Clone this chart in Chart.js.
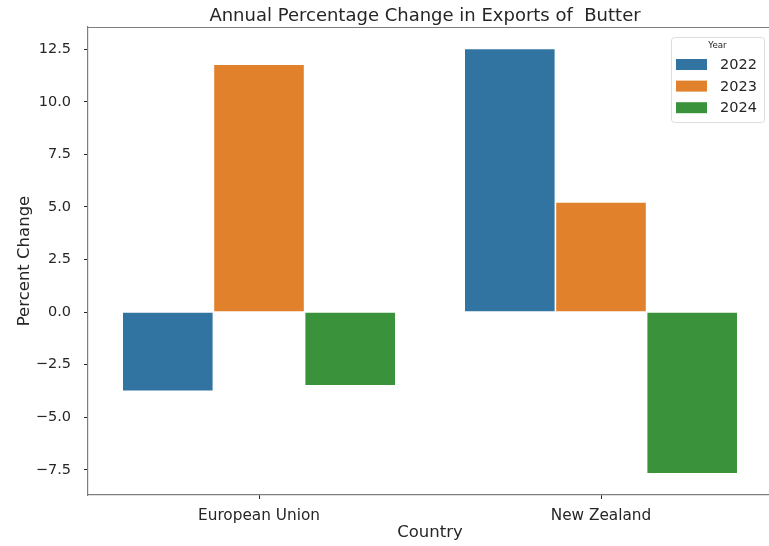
<!DOCTYPE html>
<html lang="en">
  <head>
    <meta charset="UTF-8" />
    <title>Annual Percentage Change in Exports of Butter</title>
    <script src="https://cdn.jsdelivr.net/npm/chart.js"></script>
    <style>
      html, body { margin: 0; background: #fff; overflow: hidden; }
    </style>
  </head>
  <body>
    <canvas id="butterChart" width="772" height="546"></canvas>

    <script>
      // data
      const countries = ["European Union", "New Zealand"];
      const years = ["2022", "2023", "2024"];
      const change2022 = [-3.77, 12.54];
      const change2023 = [11.79, 5.24];
      const change2024 = [-3.51, -7.69];
      const yTicks = [-7.5, -5, -2.5, 0, 2.5, 5, 7.5, 10, 12.5];

      const barColors = ["#3274a1", "#e1812c", "#3a923a"];
      const textColor = "#262626";
      const spineColor = "#7f7f7f";
      const fontFamily = "'DejaVu Sans', sans-serif";

      const seriesValues = [change2022, change2023, change2024];

      // title, top spine and the legend box
      const decorations = {
        id: "decorations",
        afterDraw(chart) {
          const ctx = chart.ctx;
          const area = chart.chartArea;
          ctx.save();

          ctx.strokeStyle = spineColor;
          ctx.lineWidth = 1.2;
          ctx.beginPath();
          ctx.moveTo(area.left, area.top + 0.5);
          ctx.lineTo(area.right, area.top + 0.5);
          ctx.stroke();

          ctx.fillStyle = textColor;
          ctx.font = "18px " + fontFamily;
          ctx.textAlign = "center";
          ctx.textBaseline = "middle";
          ctx.fillText("Annual Percentage Change in Exports of  Butter", (area.left + area.right) / 2 - 5, 16);

          // legend
          const lx = 671, ly = 37, lw = 93, lh = 85;
          ctx.fillStyle = "rgba(255,255,255,0.85)";
          ctx.strokeStyle = "#dddddd";
          ctx.lineWidth = 1;
          ctx.beginPath();
          ctx.roundRect(lx + 0.5, ly + 0.5, lw, lh, 3);
          ctx.fill();
          ctx.stroke();

          ctx.fillStyle = textColor;
          ctx.font = "8.7px " + fontFamily;
          ctx.textAlign = "center";
          ctx.fillText("Year", lx + lw / 2, 46);

          ctx.font = "14.5px " + fontFamily;
          ctx.textAlign = "left";
          chart.data.datasets.forEach((ds, i) => {
            const cy = 64.5 + i * 21.6;
            ctx.fillStyle = ds.backgroundColor;
            ctx.fillRect(676, cy - 5.5, 31, 11);
            ctx.fillStyle = textColor;
            ctx.fillText(ds.label, 720, cy + 1);
          });

          ctx.restore();
        },
      };

      new Chart(document.getElementById("butterChart"), {
        type: "bar",
        data: {
          labels: countries,
          datasets: years.map((year, i) => ({
            label: year,
            data: seriesValues[i],
            backgroundColor: barColors[i],
            borderColor: "rgba(255,255,255,0.2)",
            borderWidth: 0.8,
            categoryPercentage: 0.8,
            barPercentage: 1.0,
          })),
        },
        options: {
          responsive: false,
          animation: false,
          layout: { padding: { top: 27, right: 0, left: 0, bottom: 0 } },
          plugins: {
            legend: { display: false },
            title: { display: false },
            tooltip: { enabled: false },
          },
          scales: {
            x: {
              afterFit(scale) {
                scale.height = 51;
              },
              grid: { offset: false, drawOnChartArea: false, drawTicks: true, tickLength: 4, color: textColor },
              border: { display: true, color: spineColor, width: 1.2 },
              ticks: { color: textColor, padding: 8, font: { family: fontFamily, size: 15.3 } },
              title: {
                display: true,
                text: "Country",
                color: textColor,
                padding: { top: 0, bottom: 3 },
                font: { family: fontFamily, size: 16.5 },
              },
            },
            y: {
              min: -8.7,
              max: 13.56,
              afterFit(scale) {
                scale.width = 88;
              },
              afterBuildTicks(scale) {
                scale.ticks = yTicks.map((v) => ({ value: v }));
              },
              grid: { drawOnChartArea: false, drawTicks: true, tickLength: 4, color: textColor },
              border: { display: true, color: spineColor, width: 1.2 },
              ticks: {
                color: textColor,
                padding: 13,
                font: { family: fontFamily, size: 14.5 },
                callback: (v) => v.toFixed(1).replace("-", "\u2212"),
              },
              title: {
                display: true,
                text: "Percent Change",
                color: textColor,
                padding: { top: 15, bottom: 0 },
                font: { family: fontFamily, size: 16.5 },
              },
            },
          },
        },
        plugins: [decorations],
      });
    </script>
  </body>
</html>
